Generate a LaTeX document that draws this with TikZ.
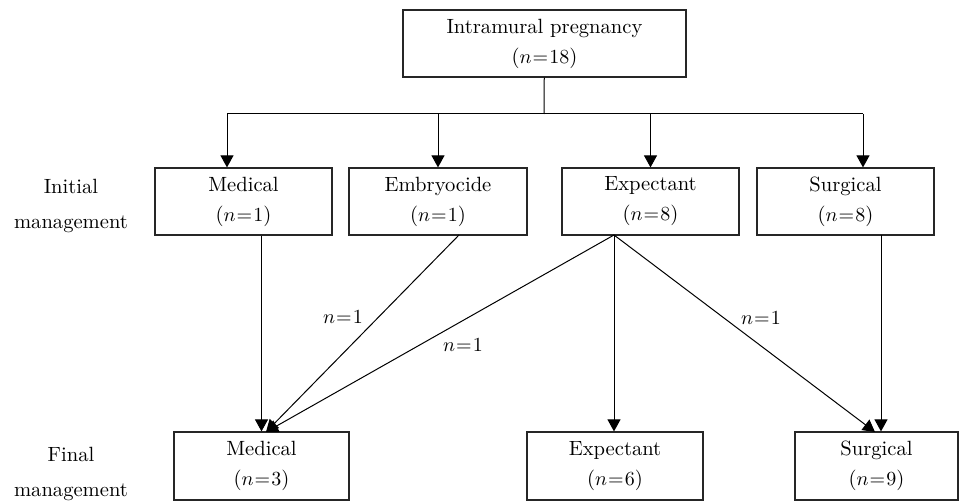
\documentclass[tikz,border=0pt]{standalone}
\usetikzlibrary{arrows.meta}
\newcommand{\nn}[1]{$n\mkern1mu{=}\mkern1mu#1$}
\begin{document}
\begin{tikzpicture}[x=0.5pt,y=-0.5pt,
  txt/.style={font=\fontsize{10.3}{15}\selectfont},
  box/.style={txt,draw=black!85,line width=0.6pt,inner sep=0pt,align=center,
    minimum width=88.5pt,minimum height=33.5pt},
  conn/.style={line width=0.5pt},
  arr/.style={conn,-{Triangle[length=6pt,width=6.5pt]}},
  side/.style={font=\fontsize{10.3}{17.5}\selectfont,align=center,inner sep=0pt},
  lab/.style={txt,inner sep=0pt}]
\useasboundingbox (0,0) rectangle (960,502);
% boxes
\node[box,minimum width=141.5pt] (top) at (544.5,43.5) {Intramural pregnancy\\(\nn{18})};
\node[box] (iMed) at (243.5,201.5) {Medical\\(\nn{1})};
\node[box,minimum width=89pt] (iEmb) at (438,201.5) {Embryocide\\(\nn{1})};
\node[box] (iExp) at (650.5,201.5) {Expectant\\(\nn{8})};
\node[box] (iSur) at (845.5,201.5) {Surgical\\(\nn{8})};
\node[box,minimum width=87.5pt,minimum height=34pt] (fMed) at (261.5,466) {Medical\\(\nn{3})};
\node[box,minimum width=88pt,minimum height=34pt] (fExp) at (615,466) {Expectant\\(\nn{6})};
\node[box,minimum width=81.5pt,minimum height=34pt] (fSur) at (876.5,466) {Surgical\\(\nn{9})};
% side labels
\node[side] (lInit) at (71,206) {Initial\\management};
\node[side] (lFin) at (71,474) {Final\\management};
% connector coordinates
\coordinate (bar) at (544,114);
\coordinate (barL) at (227,114);
\coordinate (barR) at (863,114);
\coordinate (embOut) at (459,235);
\coordinate (expOut) at (614,235);
\coordinate (surOut) at (881,235);
\coordinate (medIn) at (266,432);
\coordinate (surIn) at (875,432);
% tree from top
\draw[conn] (top) -- (bar);
\draw[conn] (barL) -- (barR);
\draw[arr] (barL) -- (barL |- iMed.north);
\draw[arr] (iEmb.north |- bar) -- (iEmb.north);
\draw[arr] (iExp.north |- bar) -- (iExp.north);
\draw[arr] (barR) -- (barR |- iSur.north);
% to final
\draw[arr] (fMed.north |- iMed.south) -- (fMed.north);
\draw[arr] (embOut) -- (medIn);
\draw[arr] (expOut) -- (medIn);
\draw[arr] (expOut) -- (expOut |- fExp.north);
\draw[arr] (expOut) -- (surIn);
\draw[arr] (surOut) -- (surOut |- fSur.north);
% edge labels
\node[lab] (n1) at (343,317) {\nn{1}};
\node[lab] (n2) at (463,345) {\nn{1}};
\node[lab] (n3) at (761,318) {\nn{1}};
\end{tikzpicture}
\end{document}
